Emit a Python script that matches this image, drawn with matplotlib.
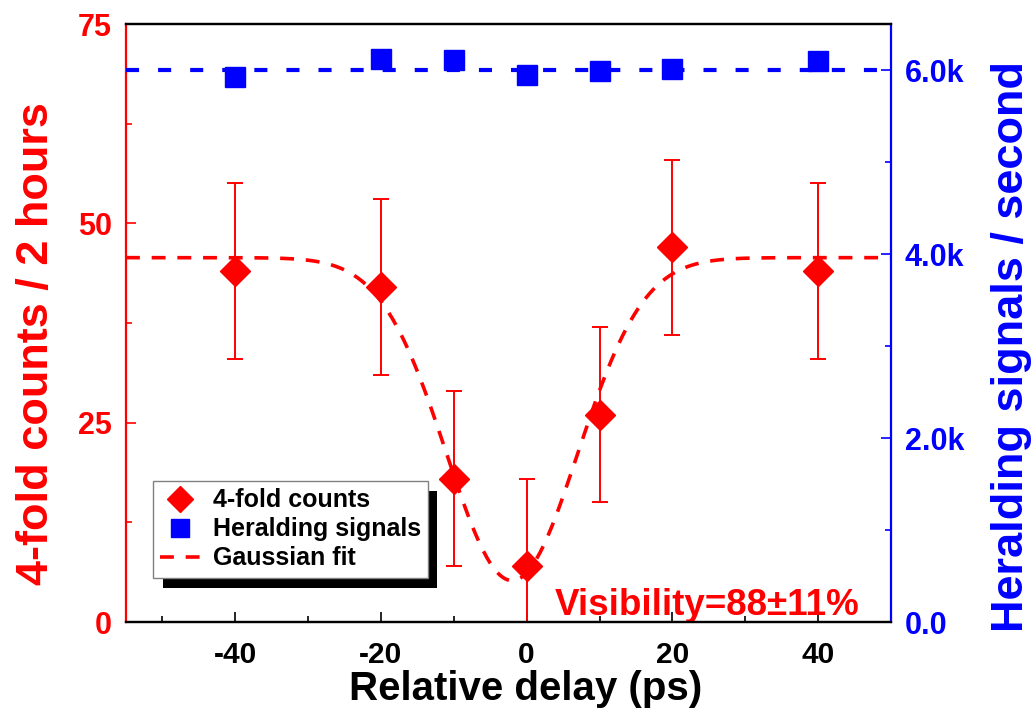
import numpy as np
import matplotlib
matplotlib.use('Agg')
import matplotlib.pyplot as plt
from matplotlib.patches import Rectangle
from matplotlib.ticker import MultipleLocator, FuncFormatter

plt.rcParams['font.family'] = ['Liberation Sans', 'DejaVu Sans']
plt.rcParams['font.weight'] = 'bold'
plt.rcParams['axes.labelweight'] = 'bold'
plt.rcParams['axes.unicode_minus'] = False
plt.rcParams['lines.scale_dashes'] = False

# data
delay = [-40, -20, -10, 0, 10, 20, 40]
counts = [44, 42, 18, 7, 26, 47, 44]
counts_err = [11, 11, 11, 11, 11, 11, 11]
herald = [5924, 6120, 6109, 5946, 5989, 6011, 6098]
herald_mean = 6000

# gaussian fit parameters (baseline, depth, centre, sigma)
fit_base = 45.7
fit_depth = 40.5
fit_x0 = -2.0
fit_sigma = 9.0

RED = '#ff0000'
BLUE = '#0000ff'

fig = plt.figure(figsize=(10.36, 7.15), dpi=100)
ax = fig.add_axes([0.1216, 0.130, 0.7384, 0.8364])
ax2 = ax.twinx()

xlim = (-55, 50)
xf = np.linspace(xlim[0], xlim[1], 400)
yf = fit_base - fit_depth * np.exp(-(xf - fit_x0) ** 2 / (2 * fit_sigma ** 2))
fit_line, = ax.plot(xf, yf, color=RED, lw=2.6, dashes=(10, 8.5), label='Gaussian fit')

ax.errorbar(delay, counts, yerr=counts_err, fmt='none', ecolor=RED,
            elinewidth=1.4, capsize=5.5, capthick=1.4)
pts, = ax.plot(delay, counts, 'D', color=RED, ms=15, mec=RED, label='4-fold counts')

ax2.axhline(herald_mean, color=BLUE, lw=3, dashes=(9.4, 13.7))
sq, = ax2.plot(delay, herald, 's', color=BLUE, ms=15, mec=BLUE, label='Heralding signals')

ax.set_xlim(*xlim)
ax.set_ylim(0, 75)
ax2.set_ylim(0, 6500)

ax.xaxis.set_major_locator(MultipleLocator(20))
ax.xaxis.set_minor_locator(MultipleLocator(10))
ax.yaxis.set_major_locator(MultipleLocator(25))
ax.yaxis.set_minor_locator(MultipleLocator(12.5))
ax2.yaxis.set_major_locator(MultipleLocator(2000))
ax2.yaxis.set_minor_locator(MultipleLocator(1000))
ax2.yaxis.set_major_formatter(FuncFormatter(lambda v, p: '0.0' if v == 0 else '%.1fk' % (v / 1000)))

for a in (ax, ax2):
    for s in a.spines.values():
        s.set_linewidth(1.6)
ax.spines['left'].set_color(RED)
ax2.spines['left'].set_visible(False)
ax2.spines['right'].set_color(BLUE)
ax.spines['right'].set_visible(False)

ax.tick_params(axis='x', which='both', direction='in', top=False, labelsize=21.5, pad=14, width=1.2)
ax.tick_params(axis='x', which='major', length=7)
ax.tick_params(axis='x', which='minor', length=4)
ax.tick_params(axis='y', which='both', direction='in', colors=RED, labelsize=22, pad=10, width=1.2)
ax.tick_params(axis='y', which='major', length=7)
ax.tick_params(axis='y', which='minor', length=4)
ax2.tick_params(axis='y', which='both', direction='in', colors=BLUE, labelsize=22, pad=10, width=1.2)
ax2.tick_params(axis='y', which='major', length=7)
ax2.tick_params(axis='y', which='minor', length=4)

ax.set_xlabel('Relative delay (ps)', fontsize=29)
ax.xaxis.set_label_coords(0.523, -0.08)
ax.set_ylabel('4-fold counts / 2 hours', fontsize=32.5, color=RED)
ax.yaxis.set_label_coords(-0.09, 0.465)
ax2.set_ylabel('Heralding signals / second', fontsize=32.5, color=BLUE)
ax2.yaxis.set_label_coords(1.131, 0.46)

ax.text(3.8, 0.9, 'Visibility=88\u00b111%', color=RED, fontsize=26.5, va='baseline')

leg = ax2.legend([pts, sq, fit_line], ['4-fold counts', 'Heralding signals', 'Gaussian fit'],
                 loc='lower left', bbox_to_anchor=(0.035, 0.074), borderaxespad=0,
                 fontsize=18, fancybox=False, framealpha=1, edgecolor='#808080',
                 handlelength=1.6, handletextpad=0.5, labelspacing=0.2,
                 borderpad=0.3, markerscale=0.85)
leg.get_frame().set_linewidth(1.0)
leg.set_zorder(10)

fig.canvas.draw()
bb = leg.get_window_extent()
inv = fig.transFigure.inverted()
(x0, y0), (x1, y1) = inv.transform([[bb.x0 + 10, bb.y0 - 10], [bb.x1 + 9, bb.y1 - 10]])
shadow = Rectangle((x0, y0), x1 - x0, y1 - y0, transform=fig.transFigure,
                   facecolor='black', edgecolor='none', zorder=9)
ax2.add_artist(shadow)
shadow.set_clip_on(False)

fig.savefig('out.png', dpi=100)
